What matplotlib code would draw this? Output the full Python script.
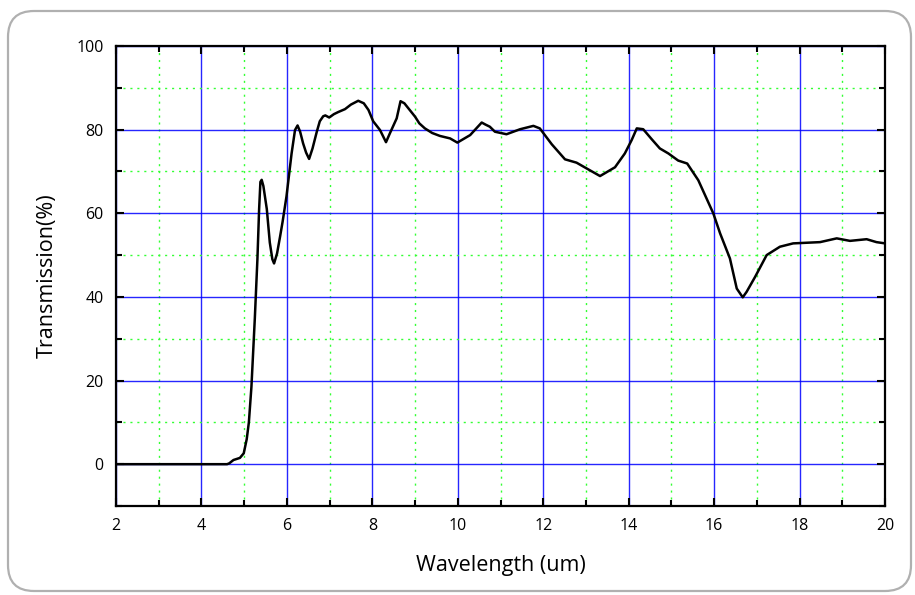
import numpy as np
import matplotlib
matplotlib.use('Agg')
import matplotlib.pyplot as plt
from matplotlib.patches import FancyBboxPatch
from matplotlib.ticker import MultipleLocator

#%% data
wavelength = [2.0, 4.6, 4.65, 4.75, 4.9, 4.99, 5.06, 5.11, 5.17, 5.25, 5.31, 5.35,
              5.38, 5.41, 5.45, 5.53, 5.6, 5.66, 5.70, 5.77, 5.84, 5.9, 5.99,
              6.11, 6.19, 6.25, 6.31, 6.38, 6.45, 6.52, 6.6, 6.7, 6.77, 6.85,
              6.9, 6.99, 7.1, 7.2, 7.36, 7.5, 7.67, 7.8, 7.91, 8.02, 8.18, 8.32,
              8.41, 8.57, 8.66, 8.75, 9.0, 9.1, 9.23, 9.4, 9.58, 9.82, 9.99,
              10.29, 10.56, 10.65, 10.75, 10.87, 11.14, 11.46, 11.77, 11.92,
              12.2, 12.51, 12.78, 13.02, 13.33, 13.68, 13.91, 14.07, 14.19,
              14.34, 14.54, 14.73, 14.93, 15.16, 15.37, 15.63, 15.98, 16.14,
              16.37, 16.53, 16.67, 16.76, 16.96, 17.23, 17.54, 17.85, 18.48,
              18.87, 19.18, 19.57, 19.8, 20.0]
transmission = [0, 0, 0.2, 1.0, 1.5, 2.6, 6, 10, 18.5, 35, 49, 61,
                67.5, 68, 66.5, 61, 53, 49, 48, 50.4, 54.4, 58, 64,
                74.3, 79.9, 81, 79.5, 76.7, 74.5, 73, 75.5, 79.5, 82, 83.2,
                83.4, 82.9, 83.7, 84.2, 84.9, 86, 86.9, 86.3, 84.7, 82, 79.9, 77,
                79.1, 82.7, 86.8, 86.3, 83.1, 81.5, 80.3, 79.2, 78.5, 77.9, 76.9,
                78.7, 81.7, 81.2, 80.7, 79.5, 78.9, 80.1, 80.9, 80.3,
                76.5, 72.9, 72.1, 70.7, 68.9, 71, 74.3, 77.5, 80.3,
                80.1, 77.7, 75.5, 74.3, 72.6, 71.9, 67.9, 60, 55.2,
                49.2, 42, 39.9, 41.2, 44.8, 50, 52, 52.8, 53.1,
                54, 53.4, 53.8, 53.1, 52.8]

plt.rcParams['font.family'] = ['Open Sans', 'DejaVu Sans']

#%% figure
fig = plt.figure(figsize=(9.15, 5.95), dpi=100)
ax = fig.add_axes([116/915, 89/595, 769/915, 460/595])

# rounded frame around the whole picture (display pixels)
frame = FancyBboxPatch((8, 4), 903, 580, boxstyle='round,pad=0,rounding_size=26',
                       transform=None, facecolor='none', edgecolor='#b0b0b0',
                       linewidth=1.6, zorder=0)
fig.patches.append(frame)

ax.plot(wavelength, transmission, color='black', linewidth=1.8, zorder=3)

ax.set_xlim(2, 20)
ax.set_ylim(-10, 100)
ax.xaxis.set_major_locator(MultipleLocator(2))
ax.xaxis.set_minor_locator(MultipleLocator(1))
ax.set_yticks([0, 20, 40, 60, 80, 100])
ax.set_yticks([-10, 10, 30, 50, 70, 90], minor=True)

ax.grid(which='major', color='#0000ff', linewidth=1.0, alpha=0.85)
ax.grid(which='minor', color='#33ff33', linewidth=1.0, linestyle=(0, (1.5, 3.5)))
ax.set_axisbelow(True)

ax.tick_params(which='both', direction='in', top=True, right=True, width=1.5,
               labelsize=11.5, pad=9)
ax.tick_params(which='major', length=6)
ax.tick_params(which='minor', length=4)
for sp in ax.spines.values():
    sp.set_linewidth(1.6)

ax.set_xlabel('Wavelength (um)', fontsize=15.5, labelpad=15)
ax.set_ylabel('Transmission(%)', fontsize=15.5, labelpad=13)

plt.savefig('out.png', dpi=100)
